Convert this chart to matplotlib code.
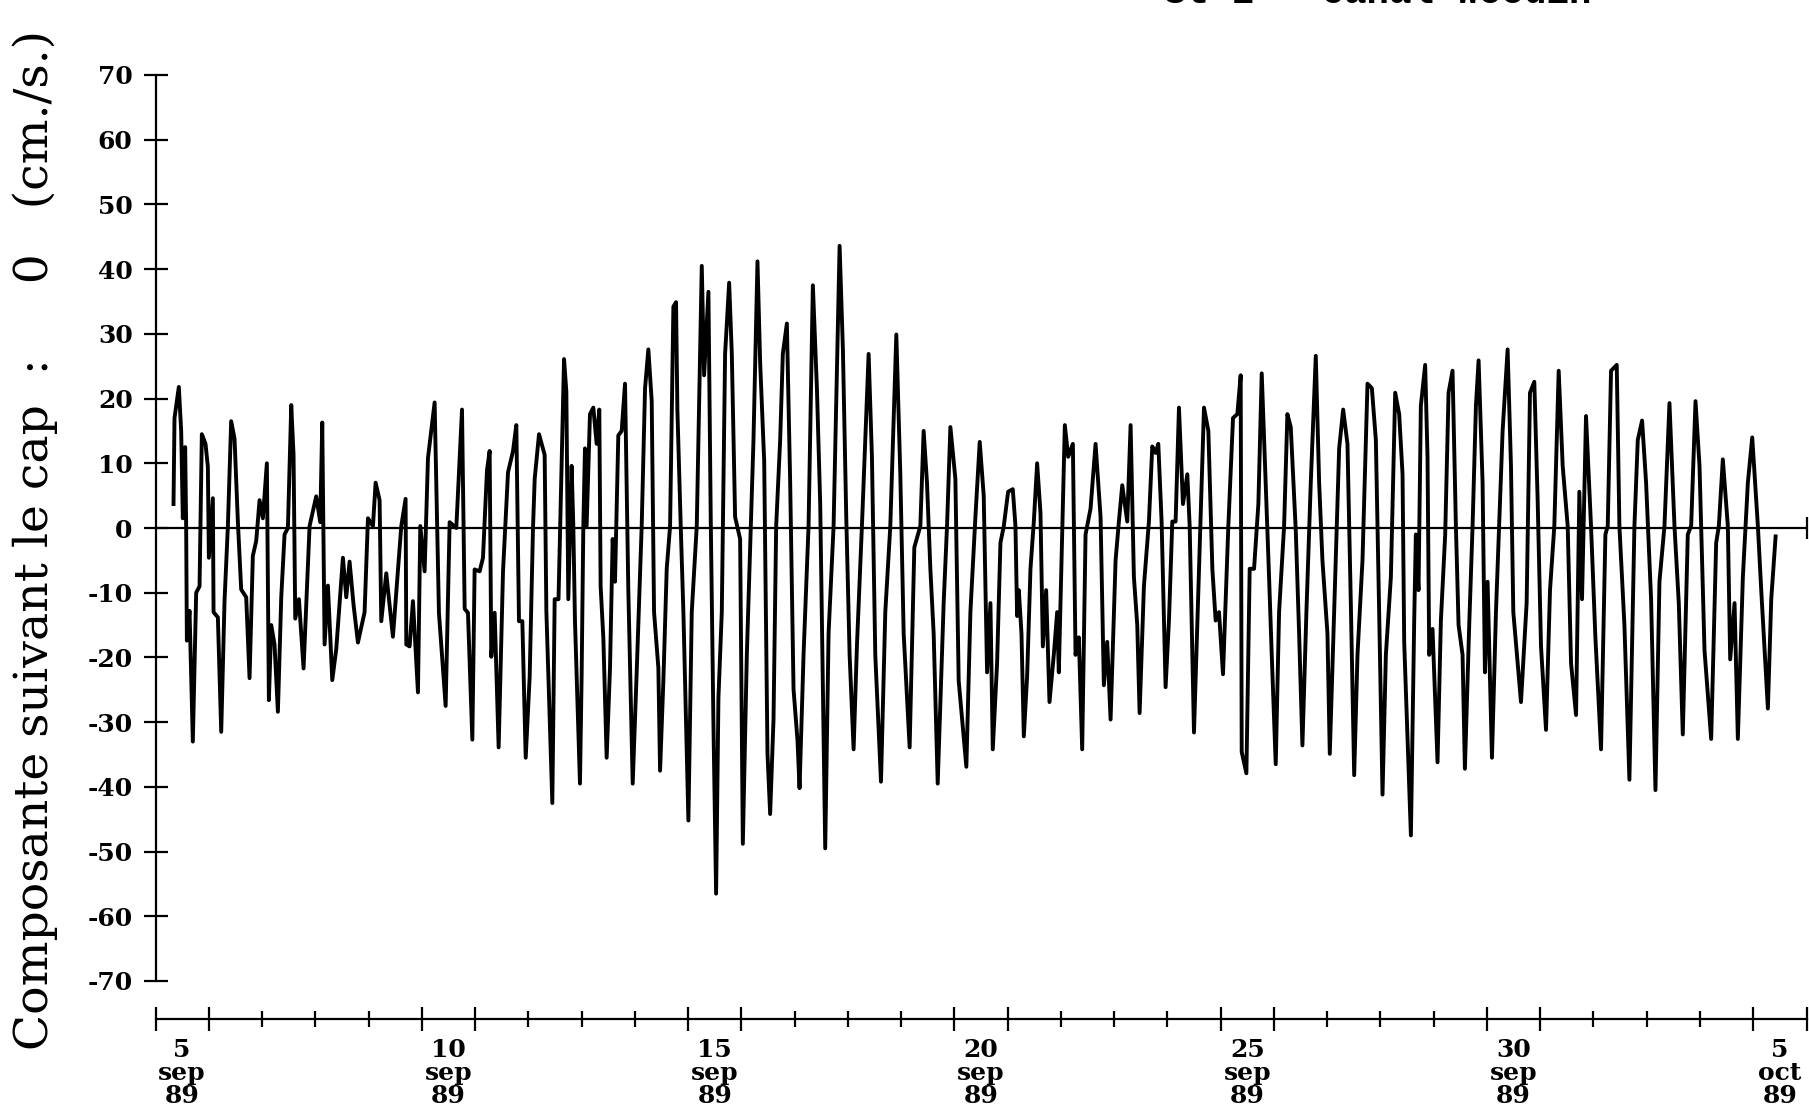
# -*- coding: utf-8 -*-
"""
Composante du courant suivant le cap 0 - Canal Woodin, 5 sep au 5 oct 89.
"""

import matplotlib

matplotlib.use("Agg")
import matplotlib.pyplot as plt
import matplotlib.transforms as mtransforms
import numpy as np

################## Donnees ##################
# temps en jours depuis le 5 sep 89 00h, composante en cm/s

t_sem1 = [
    0.338, 0.357, 0.438, 0.482, 0.513, 0.557, 0.576, 0.589, 0.639, 0.701,
    0.764, 0.827, 0.870, 0.939, 0.983, 1.002, 1.077, 1.090, 1.171, 1.234,
    1.296, 1.359, 1.421, 1.484, 1.547, 1.609, 1.703, 1.766, 1.828, 1.891,
    1.954, 2.016, 2.091, 2.129, 2.173, 2.235, 2.298, 2.361, 2.423, 2.486,
    2.549, 2.592, 2.624, 2.693, 2.780, 2.893, 3.018, 3.093, 3.131, 3.175,
    3.237, 3.319, 3.394, 3.519, 3.582, 3.644, 3.719, 3.801, 3.926, 3.989,
    4.083, 4.133, 4.208, 4.239, 4.333, 4.458, 4.615, 4.696, 4.709, 4.771,
    4.834, 4.928, 4.972, 5.053, 5.116, 5.241, 5.322, 5.448, 5.523, 5.648,
    5.755, 5.805, 5.867, 5.949, 5.992, 6.086, 6.149, 6.224, 6.274, 6.305,
    6.368, 6.443, 6.525, 6.619, 6.713, 6.775, 6.825, 6.888, 6.951, 7.026,
    7.088, 7.120, 7.201, 7.307, 7.339, 7.451, 7.495, 7.567, 7.602, 7.671,
    7.714,
]
v_sem1 = [
    3.7, 17.0, 21.8, 15.0, 1.5, 12.5, 0.0, -17.4, -12.8, -33.0,
    -10.0, -9.0, 14.5, 13.0, 9.5, -4.6, 4.6, -13.0, -13.8, -31.5,
    -11.3, 0.3, 16.5, 13.8, 0.9, -9.5, -10.7, -23.2, -4.3, -2.0,
    4.3, 1.5, 10.0, -26.6, -15.0, -18.0, -28.4, -10.7, -1.0, 0.0,
    19.0, 11.3, -14.0, -11.0, -21.7, 0.3, 4.9, 0.9, 16.3, -18.0,
    -8.9, -23.5, -18.7, -4.6, -10.7, -5.2, -11.9, -17.7, -13.0, 1.5,
    0.3, 7.0, 4.3, -14.4, -7.0, -16.8, 0.3, 4.5, -18.0, -18.3,
    -11.3, -25.4, 0.3, -6.7, 10.8, 19.4, -13.1, -27.5, 0.9, 0.0,
    18.3, -12.5, -13.1, -32.7, -6.4, -6.7, -4.6, 8.9, 11.9, -19.9,
    -13.1, -33.9, -6.7, 8.6, 11.9, 15.9, -14.4, -14.4, -35.5, -22.9,
    0.0, 7.6, 14.5, 11.3, -12.8, -42.5, -11.0, -11.0, 1.5, 26.1,
    21.1,
]

t_sem2 = [
    7.751, 7.813, 7.845, 7.876, 7.970, 8.001, 8.033, 8.064, 8.095, 8.158,
    8.221, 8.283, 8.333, 8.358, 8.409, 8.471, 8.534, 8.584, 8.628, 8.690,
    8.753, 8.816, 8.878, 8.960, 9.035, 9.129, 9.192, 9.254, 9.317, 9.361,
    9.442, 9.474, 9.536, 9.599, 9.662, 9.724, 9.774, 9.799, 9.862, 9.912,
    10.006, 10.069, 10.163, 10.257, 10.301, 10.382, 10.426, 10.476, 10.526, 10.570,
    10.633, 10.695, 10.771, 10.821, 10.883, 10.977, 11.028, 11.103, 11.165, 11.228,
    11.303, 11.353, 11.429, 11.491, 11.541, 11.604, 11.654, 11.729, 11.779, 11.855,
    11.917, 11.980, 12.055, 12.093, 12.168, 12.262, 12.343, 12.419, 12.481, 12.575,
    12.638, 12.732, 12.845, 12.907, 12.970, 13.033, 13.108, 13.170, 13.264, 13.390,
    13.452, 13.515, 13.622, 13.703, 13.797, 13.910, 13.985, 14.048, 14.160, 14.248,
    14.361, 14.423, 14.486, 14.549, 14.611, 14.687, 14.799, 14.862, 14.925, 15.019,
    15.081, 15.225, 15.301, 15.395, 15.476, 15.551, 15.614,
]
v_sem2 = [
    -11.0, 9.6, 0.3, -14.3, -39.5, -23.0, 0.3, 12.3, 0.3, 17.6,
    18.6, 13.0, 18.3, -9.0, -17.0, -35.5, -21.6, -1.7, -8.3, 14.3,
    15.0, 22.3, -9.6, -39.5, -22.3, 0.3, 21.6, 27.6, 19.6, -13.0,
    -21.6, -37.5, -23.6, -6.3, 0.3, 34.2, 34.9, 18.3, 0.3, -13.0,
    -45.2, -13.0, 0.3, 40.5, 23.6, 36.5, 1.0, -30.2, -56.5, -26.2,
    -13.0, 26.9, 37.9, 26.9, 1.7, -1.7, -48.8, -19.6, -3.0, 13.6,
    41.2, 25.6, 10.3, -34.9, -44.2, -29.6, 0.3, 13.6, 26.9, 31.6,
    7.0, -24.9, -32.9, -40.2, -19.6, 0.3, 37.5, 21.6, 3.7, -49.5,
    -16.3, 0.3, 43.6, 27.6, 1.7, -19.6, -34.2, -18.3, 0.3, 26.9,
    11.0, -19.6, -39.2, -13.0, 0.3, 29.9, 8.3, -16.3, -33.9, -3.0,
    0.3, 15.0, 7.0, -6.3, -16.3, -39.5, -11.6, 0.3, 15.6, 7.6,
    -23.6, -36.9, -13.0, 1.7, 13.3, 5.0, -22.3,
]

t_sem3 = [
    15.677, 15.721, 15.802, 15.865, 15.928, 16.009, 16.097, 16.147, 16.178, 16.210,
    16.260, 16.304, 16.366, 16.429, 16.492, 16.554, 16.617, 16.661, 16.723, 16.786,
    16.867, 16.930, 16.961, 17.024, 17.074, 17.137, 17.225, 17.275, 17.337, 17.400,
    17.463, 17.557, 17.651, 17.745, 17.807, 17.870, 17.933, 18.027, 18.089, 18.152,
    18.246, 18.309, 18.371, 18.434, 18.478, 18.559, 18.653, 18.716, 18.779, 18.829,
    18.891, 18.966, 19.029, 19.092, 19.154, 19.217, 19.292, 19.374, 19.418, 19.499,
    19.593, 19.687, 19.769, 19.844, 19.906, 19.969, 20.044, 20.144, 20.232, 20.313,
    20.376, 20.395, 20.483, 20.545, 20.627, 20.708, 20.771, 20.846, 20.909, 20.959,
    21.034, 21.097, 21.191, 21.253, 21.316, 21.410, 21.473, 21.535, 21.610, 21.692,
    21.786, 21.849, 21.911, 22.005, 22.049, 22.131, 22.225, 22.300, 22.381, 22.444,
    22.507, 22.569, 22.663, 22.757, 22.839, 22.914, 22.976, 23.039, 23.102, 23.196,
    23.277, 23.352, 23.415, 23.446, 23.572,
]
v_sem3 = [
    -11.6, -34.2, -20.9, -2.3, 0.3, 5.6, 6.0, 0.3, -13.6, -9.6,
    -16.3, -32.2, -22.9, -6.3, 1.0, 10.0, 2.3, -18.3, -9.6, -26.9,
    -19.6, -13.0, -22.3, -1.0, 15.9, 11.0, 13.0, -19.6, -16.9, -34.2,
    -1.0, 3.0, 13.0, 1.7, -24.3, -17.6, -29.6, -5.0, 1.0, 6.6,
    1.0, 15.9, -7.6, -15.0, -28.6, -9.0, 1.0, 12.6, 11.6, 13.0,
    1.0, -24.6, -14.3, 1.0, 1.0, 18.6, 3.7, 8.3, 0.3, -31.6,
    -6.3, 18.6, 15.0, -6.3, -14.3, -13.0, -22.6, 0.3, 17.0, 17.6,
    23.6, -34.6, -37.9, -6.3, -6.3, 3.7, 23.9, 7.0, -7.6, -19.6,
    -36.5, -13.0, 0.3, 17.6, 15.6, -0.3, -16.3, -33.6, -13.0, 7.0,
    26.6, 7.0, -5.0, -16.3, -34.9, -13.0, 12.3, 18.3, 13.0, -11.6,
    -38.2, -19.6, -5.0, 22.3, 21.6, 13.6, -13.0, -41.2, -19.6, -7.6,
    20.9, 17.6, 8.3, -17.6, -47.5,
]

t_sem4 = [
    23.634, 23.665, 23.715, 23.759, 23.840, 23.884, 23.916, 23.978, 24.072, 24.135,
    24.216, 24.279, 24.354, 24.417, 24.467, 24.542, 24.586, 24.667, 24.730, 24.793,
    24.843, 24.918, 24.962, 25.012, 25.094, 25.169, 25.294, 25.388, 25.451, 25.495,
    25.639, 25.745, 25.808, 25.889, 25.952, 26.015, 26.109, 26.184, 26.265, 26.347,
    26.422, 26.516, 26.579, 26.673, 26.735, 26.785, 26.860, 26.954, 27.036, 27.142,
    27.224, 27.268, 27.330, 27.437, 27.487, 27.581, 27.675, 27.769, 27.832, 27.913,
    27.988, 28.082, 28.164, 28.239, 28.333, 28.427, 28.521, 28.602, 28.677, 28.771,
    28.834, 28.916, 28.991, 29.085, 29.210, 29.304, 29.354, 29.429, 29.523, 29.567,
    29.649, 29.711, 29.805, 29.899, 29.981, 30.087, 30.150, 30.275, 30.338, 30.420,
]
v_sem4 = [
    -14.3, -1.0, -9.6, 18.9, 25.2, 11.0, -19.6, -15.6, -36.2, -14.3,
    -1.0, 20.9, 24.3, 0.3, -15.0, -19.6, -37.2, -15.0, 0.3, 18.9,
    25.9, 7.0, -22.3, -8.3, -35.5, -13.0, 15.0, 27.6, 9.6, -13.0,
    -26.9, -11.6, 20.9, 22.6, 4.3, -18.3, -31.2, -9.6, 0.3, 24.3,
    9.6, 0.3, -20.9, -28.9, 5.6, -11.0, 17.3, 0.3, -16.9, -34.2,
    -1.0, 0.3, 24.3, 25.2, 0.3, -15.0, -38.9, 0.3, 13.6, 16.6,
    7.0, -11.0, -40.5, -8.3, 0.3, 19.3, 0.3, -11.6, -31.9, -1.0,
    0.3, 19.6, 9.6, -18.9, -32.6, -2.3, 0.3, 10.6, 0.3, -20.3,
    -11.6, -32.6, -7.6, 7.0, 14.0, 0.3, -9.6, -27.9, -11.0, -1.3,
]

jours_dates = [0, 5, 10, 15, 20, 25, 30]
textes_dates = ["5\nsep\n89", "10\nsep\n89", "15\nsep\n89", "20\nsep\n89",
                "25\nsep\n89", "30\nsep\n89", "5\noct\n89"]
graduations_y = np.arange(-70, 71, 10)

temps = np.concatenate([t_sem1, t_sem2, t_sem3, t_sem4])
composante = np.concatenate([v_sem1, v_sem2, v_sem3, v_sem4])

################## Figure ##################

W, H = 1809, 1113
fig = plt.figure(figsize=(W / 100, H / 100), dpi=100)
fig.patch.set_facecolor("white")

x_gauche, x_droite = 155.5, 1806.5
y_haut, y_bas = 75, 981
n_jours = 31

police_ticks = dict(family="DejaVu Serif", weight="bold", size=18)

ax = fig.add_axes([x_gauche / W, 1 - y_bas / H,
                   (x_droite - x_gauche) / W, (y_bas - y_haut) / H])
ax.set_xlim(0, n_jours)
ax.set_ylim(-70, 70)
for cote in ["top", "right", "bottom"]:
    ax.spines[cote].set_visible(False)
ax.spines["left"].set_linewidth(1.6)
ax.set_xticks([])
ax.set_yticks(graduations_y)
ax.set_yticklabels([str(v) for v in graduations_y], fontdict=police_ticks)
ax.tick_params(axis="y", direction="inout", length=17, width=1.6, pad=8)

ax.axhline(0, color="black", lw=1.6)
ax.plot([n_jours], [0], marker="|", color="black", ms=16, mew=1.6, clip_on=False)
ax.plot(temps, composante, color="black", lw=2.8)

# axe du temps
y_temps = 1019
ax2 = fig.add_axes([x_gauche / W, 1 - y_temps / H, (x_droite - x_gauche) / W, 0.001])
ax2.set_xlim(0, n_jours)
ax2.set_ylim(0, 1)
for cote in ["top", "right", "left"]:
    ax2.spines[cote].set_visible(False)
ax2.spines["bottom"].set_linewidth(1.6)
ax2.set_yticks([])
jours_longs = sorted(set(jours_dates) | set(j + 1 for j in jours_dates))
jours_courts = [j for j in range(n_jours + 1) if j not in jours_longs]
ax2.set_xticks(jours_longs)
ax2.set_xticklabels([])
ax2.set_xticks(jours_courts, minor=True)
ax2.tick_params(axis="x", which="major", direction="inout", length=17, width=1.6)
ax2.tick_params(axis="x", which="minor", direction="inout", length=11.5, width=1.6)

trans = mtransforms.blended_transform_factory(ax2.transData, fig.transFigure)
for jour, texte in zip(jours_dates, textes_dates):
    ax2.text(jour + 0.5, 1 - 1038 / H, texte, transform=trans, ha="center",
             va="top", linespacing=0.95, **police_ticks)

fig.text(35 / W, 1 - 1050 / H,
         "Composante suivant le cap  :     0   (cm./s.)",
         rotation=90, ha="center", va="bottom", family="DejaVu Serif", size=34)

fig.text(1164 / W, 1 - 3 / H, "St 1 - Canal Woodin", ha="left", va="baseline",
         family="Liberation Mono", weight="bold", size=27)

fig.savefig("out.png", dpi=100)
plt.close(fig)
